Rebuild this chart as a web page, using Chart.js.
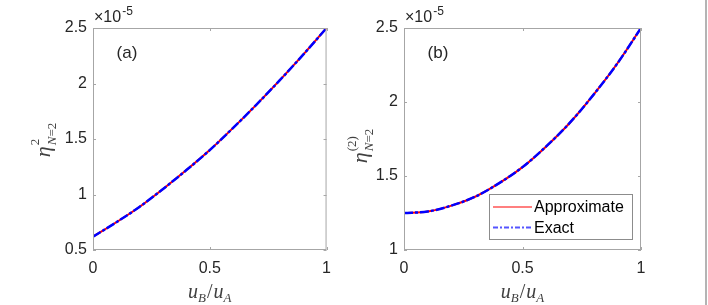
<!DOCTYPE html>
<html>
<head>
<meta charset="utf-8">
<script src="https://cdn.jsdelivr.net/npm/chart.js@4.4.1/dist/chart.umd.min.js"></script>
<style>
  body { margin:0; background:#fff; }
  #wrap { position:relative; width:708px; height:305px; overflow:hidden; }
  canvas { position:absolute; top:0; }
  #c1 { left:0; }
  #c2 { left:340px; }
  #edge { position:absolute; left:705px; top:0; width:2px; height:305px; background:#b4b4b4; }
</style>
</head>
<body>
<div id="wrap">
  <canvas id="c1" width="340" height="305"></canvas>
  <canvas id="c2" width="368" height="305"></canvas>
  <div id="edge"></div>
</div>
<script>
// x values (u_B/u_A)
var ratio = [0, 0.1, 0.2, 0.3, 0.4, 0.5, 0.6, 0.7, 0.8, 0.9, 1.0]
// panel (a), units of 1e-5
var approxA = [0.62, 0.75, 0.89, 1.05, 1.22, 1.40, 1.60, 1.81, 2.03, 2.26, 2.50]
var exactA  = [0.62, 0.75, 0.89, 1.05, 1.22, 1.40, 1.60, 1.81, 2.03, 2.26, 2.50]
// panel (b), units of 1e-5
var approxB = [1.25, 1.26, 1.30, 1.36, 1.45, 1.56, 1.70, 1.86, 2.05, 2.26, 2.50]
var exactB  = [1.25, 1.26, 1.30, 1.36, 1.45, 1.56, 1.70, 1.86, 2.05, 2.26, 2.50]
var seriesNames = ['Approximate', 'Exact']
var xTicks = [0, 0.5, 1]
var yTicksA = [0.5, 1, 1.5, 2, 2.5]
var yTicksB = [1, 1.5, 2, 2.5]

var FONT = "'Liberation Sans', Arial, sans-serif"
var SERIF = "'Liberation Serif', 'Times New Roman', serif"
var TXT = '#262626'
var AXC = '#a6a6a6'

function pts(xs, ys) {
    var out = []
    for (var i = 0; i < xs.length; i++) out.push({x: xs[i], y: ys[i]})
    return out
}

function fmt(v) { return String(v) }

// draws a run of [text, font, dy, extra gap] pieces, returns total width
function drawRuns(ctx, runs, x, y, measureOnly) {
    var w = 0
    for (var i = 0; i < runs.length; i++) {
        ctx.font = runs[i][1]
        if (!measureOnly) ctx.fillText(runs[i][0], x + w, y + runs[i][2])
        w += ctx.measureText(runs[i][0]).width + (runs[i][3] || 0)
    }
    return w
}

var decor = {
    id: 'decor',
    afterDraw: function(chart) {
        var o = chart.options.plugins.decor
        var ctx = chart.ctx
        var a = chart.chartArea
        var xs = chart.scales.x, ys = chart.scales.y
        ctx.save()
        // box
        ctx.strokeStyle = AXC
        ctx.lineWidth = 1
        ctx.strokeRect(a.left + 0.5, a.top + 0.5, a.right - a.left - 1, a.bottom - a.top - 1)
        // inward ticks
        ctx.beginPath()
        o.xt.forEach(function(v) {
            var px = Math.round(xs.getPixelForValue(v)) + 0.5
            ctx.moveTo(px, a.bottom); ctx.lineTo(px, a.bottom - 3)
            ctx.moveTo(px, a.top); ctx.lineTo(px, a.top + 3)
        })
        o.yt.forEach(function(v) {
            var py = Math.round(ys.getPixelForValue(v)) + 0.5
            ctx.moveTo(a.left, py); ctx.lineTo(a.left + 3, py)
            ctx.moveTo(a.right, py); ctx.lineTo(a.right - 3, py)
        })
        ctx.stroke()

        ctx.fillStyle = TXT
        ctx.textBaseline = 'alphabetic'
        // x10^-5
        drawRuns(ctx, [['\u00d710', '16px ' + FONT, 0, 1], ['-5', '12px ' + FONT, -7]], a.left + 1, a.top - 6)
        // panel letter
        ctx.font = '17px ' + FONT
        ctx.textAlign = 'center'
        ctx.fillText(o.tag, a.left + 34, a.top + 30)
        ctx.textAlign = 'left'

        // x title u_B/u_A
        ctx.fillStyle = '#404040'
        var xr = [['u', 'italic 20px ' + SERIF, 0], ['B', 'italic 13px ' + SERIF, 4, 1], ['/', '20px ' + SERIF, 0, 1],
                  ['u', 'italic 20px ' + SERIF, 0], ['A', 'italic 13px ' + SERIF, 4]]
        var xw = drawRuns(ctx, xr, 0, 0, true)
        drawRuns(ctx, xr, (a.left + a.right) / 2 - xw / 2, 298)

        // y title eta
        ctx.save()
        ctx.translate(o.ylx, o.yly)
        ctx.rotate(-Math.PI / 2)
        ctx.font = 'italic 22px ' + SERIF
        var ew = ctx.measureText('\u03b7').width
        ctx.font = '13px ' + SERIF
        var supw = ctx.measureText(o.sup).width
        ctx.font = 'italic 13px ' + SERIF
        var nw = ctx.measureText('N').width
        ctx.font = '13px ' + SERIF
        var subw = nw + ctx.measureText('=2').width
        var tw = ew + 1 + Math.max(supw, subw)
        var sx = -tw / 2
        ctx.font = 'italic 22px ' + SERIF
        ctx.fillText('\u03b7', sx, 5)
        ctx.font = '13px ' + SERIF
        ctx.fillText(o.sup, sx + ew + 1, -6)
        ctx.font = 'italic 13px ' + SERIF
        ctx.fillText('N', sx + ew + 1, 11)
        ctx.font = '13px ' + SERIF
        ctx.fillText('=2', sx + ew + 1 + nw, 11)
        ctx.restore()

        // legend
        if (o.legend) {
            var L = o.legend
            ctx.fillStyle = '#fff'
            ctx.fillRect(L.x, L.y, L.w, L.h)
            ctx.strokeStyle = '#8c8c8c'
            ctx.lineWidth = 1
            ctx.strokeRect(L.x + 0.5, L.y + 0.5, L.w, L.h)
            chart.data.datasets.forEach(function(ds, i) {
                var ly = L.y + 13 + i * 20.5
                ctx.beginPath()
                ctx.strokeStyle = ds.legendColor || ds.borderColor
                ctx.lineWidth = ds.label === 'Exact' ? 2 : 1.2
                ctx.setLineDash(ds.label === 'Exact' ? [5, 2, 2, 2] : [])
                ctx.moveTo(L.x + 4, ly); ctx.lineTo(L.x + 43, ly)
                ctx.stroke()
                ctx.setLineDash([])
                ctx.fillStyle = '#000'
                ctx.font = '16px ' + FONT
                ctx.textBaseline = 'middle'
                ctx.fillText(ds.label, L.x + 45, ly + 1)
            })
        }
        ctx.restore()
    }
}

function makePanel(id, approx, exact, yMin, yMax, yTicks, padRight, yWidth, deco) {
    var ctx = document.getElementById(id).getContext('2d')
    return new Chart(ctx, {
        type: 'line',
        data: {
            datasets: [{
                label: seriesNames[0],
                data: pts(ratio, approx),
                borderColor: '#ff0000',
                borderWidth: 2,
                pointRadius: 0,
                order: 2,
                cubicInterpolationMode: 'monotone',
                fill: false
            }, {
                label: seriesNames[1],
                data: pts(ratio, exact),
                borderColor: '#0000ff',
                legendColor: '#5555ff',
                borderWidth: 2.5,
                borderDash: [9, 2, 3, 2],
                pointRadius: 0,
                order: 1,
                cubicInterpolationMode: 'monotone',
                fill: false
            }]
        },
        options: {
            responsive: false,
            animation: false,
            layout: { padding: { top: 28, right: padRight, left: 0, bottom: 0 } },
            plugins: { legend: { display: false }, tooltip: { enabled: false }, decor: deco },
            scales: {
                x: {
                    type: 'linear', min: 0, max: 1,
                    grid: { display: false, drawTicks: false },
                    border: { display: false },
                    afterBuildTicks: function(s) { s.ticks = xTicks.map(function(v) { return {value: v} }) },
                    afterFit: function(s) { s.height = 55 },
                    ticks: { padding: 9, color: TXT, font: { family: FONT, size: 16 }, maxRotation: 0,
                             callback: function(v) { return fmt(v) } }
                },
                y: {
                    min: yMin, max: yMax,
                    grid: { display: false, drawTicks: false },
                    border: { display: false },
                    afterBuildTicks: function(s) { s.ticks = yTicks.map(function(v) { return {value: v} }) },
                    afterFit: function(s) { s.width = yWidth },
                    ticks: { padding: 6, color: TXT, font: { family: FONT, size: 16 },
                             callback: function(v) { return fmt(v) } }
                }
            }
        },
        plugins: [decor]
    })
}

makePanel('c1', approxA, exactA, 0.5, 2.5, yTicksA, 11, 93,
    { tag: '(a)', xt: xTicks, yt: yTicksA, sup: '2', ylx: 45, yly: 140 })
makePanel('c2', approxB, exactB, 1, 2.5, yTicksB, 67, 64,
    { tag: '(b)', xt: xTicks, yt: yTicksB, sup: '(2)', ylx: 22, yly: 146,
      legend: { x: 149, y: 194, w: 143, h: 45 } })
</script>
</body>
</html>
